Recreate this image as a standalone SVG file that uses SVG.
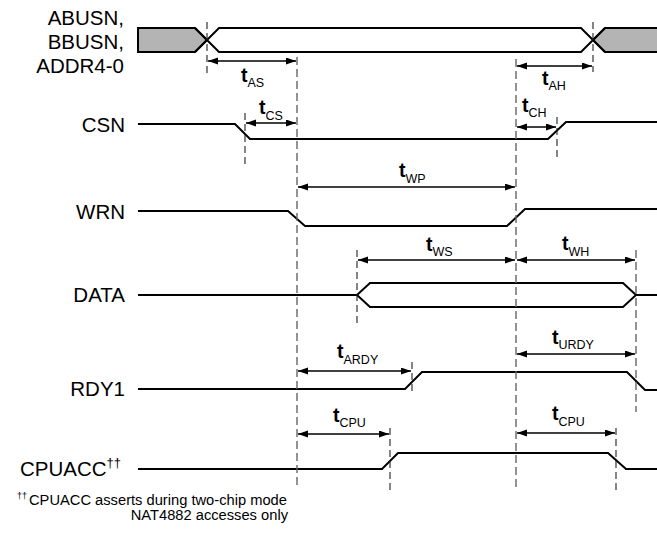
<svg xmlns="http://www.w3.org/2000/svg" width="657" height="535" viewBox="0 0 657 535">
<style>
text{font-family:"Liberation Sans",Arial,sans-serif;fill:#000}
.lbl{font-size:20.5px;text-anchor:end}
.sig{fill:none;stroke:#000;stroke-width:2;stroke-linejoin:miter}
.bus{fill:#b4b4b4;stroke:#000;stroke-width:2}
.dl{fill:none;stroke:#666;stroke-width:1.4;stroke-dasharray:8 4}
.ds{fill:none;stroke:#222;stroke-width:1.1;stroke-dasharray:7 4}
.arr{fill:none;stroke:#000;stroke-width:1.7;marker-start:url(#ah);marker-end:url(#ah)}
.t{font-size:19.5px;font-weight:bold}
.sub{font-size:12.5px}
.fn{font-size:14.7px}
</style>
<defs>
<marker id="ah" markerUnits="userSpaceOnUse" markerWidth="11" markerHeight="8" refX="10" refY="3.5" orient="auto-start-reverse">
<path d="M0,0 L10,3.5 L0,7 z" fill="#000"/>
</marker>
</defs>

<g id="ABUSN">
<text class="lbl" x="124" y="25">ABUSN,</text>
<text class="lbl" x="124" y="49">BBUSN,</text>
<text class="lbl" x="124" y="73">ADDR4-0</text>
<polygon class="bus" points="138,28 195,28 207,40 195,52 138,52"/>
<polygon class="bus" points="593,40 605,28 658,28 658,52 605,52"/>
<path class="sig" d="M195,52 L219,28 L581,28 L605,52 M195,28 L219,52 L581,52 L605,28"/>
</g>

<g id="CSN">
<text class="lbl" x="125" y="132">CSN</text>
<path class="sig" d="M138,124 L235,124 L250,139 L548,139 L566,122 L657,122"/>
</g>

<g id="WRN">
<text class="lbl" x="125" y="219">WRN</text>
<path class="sig" d="M138,211 L288,211 L305,226 L507,226 L525,209 L657,209"/>
</g>

<g id="DATA">
<text class="lbl" x="125" y="302">DATA</text>
<path class="sig" d="M138,295 L357,295 L370,283 L623,283 L636,295 L657,295 M357,295 L370,307 L623,307 L636,295"/>
</g>

<g id="RDY1">
<text class="lbl" x="125" y="396">RDY1</text>
<path class="sig" d="M138,389 L405,389 L422,372 L627,372 L645,390 L657,390"/>
</g>

<g id="CPUACC">
<text class="lbl" x="121" y="476">CPUACC<tspan font-size="13" dy="-9">††</tspan></text>
<path class="sig" d="M138,469 L382,469 L398,453 L608,453 L626,469 L657,469"/>
</g>

<g id="connectors">
<line class="dl" x1="297" y1="57" x2="297" y2="488"/>
<line class="dl" x1="516" y1="59" x2="516" y2="488"/>
<line class="ds" x1="207" y1="22" x2="207" y2="74"/>
<line class="ds" x1="593" y1="22" x2="593" y2="72"/>
<line class="ds" x1="245" y1="113" x2="245" y2="164"/>
<line class="ds" x1="557" y1="117" x2="557" y2="158"/>
<line class="ds" x1="357" y1="250" x2="357" y2="327"/>
<line class="dl" x1="636" y1="250" x2="636" y2="412"/>
<line class="ds" x1="412" y1="362" x2="412" y2="392"/>
<line class="ds" x1="390" y1="428" x2="390" y2="490"/>
<line class="ds" x1="616" y1="428" x2="616" y2="490"/>

<line class="arr" x1="208" y1="61" x2="296" y2="61"/>
<line class="arr" x1="246" y1="123" x2="296" y2="123"/>
<line class="arr" x1="517" y1="66" x2="592" y2="66"/>
<line class="arr" x1="517" y1="127" x2="556" y2="127"/>
<line class="arr" x1="298" y1="187" x2="515" y2="187"/>
<line class="arr" x1="358" y1="260" x2="515" y2="260"/>
<line class="arr" x1="517" y1="260" x2="635" y2="260"/>
<line class="arr" x1="298" y1="371" x2="411" y2="371"/>
<line class="arr" x1="517" y1="354" x2="635" y2="354"/>
<line class="arr" x1="298" y1="434" x2="389" y2="434"/>
<line class="arr" x1="517" y1="433" x2="615" y2="433"/>
</g>

<g id="labels">
<text x="241" y="82"><tspan class="t">t</tspan><tspan class="sub" dy="5">AS</tspan></text>
<text x="259" y="114"><tspan class="t">t</tspan><tspan class="sub" dy="6">CS</tspan></text>
<text x="542" y="85"><tspan class="t">t</tspan><tspan class="sub" dy="5">AH</tspan></text>
<text x="522" y="112"><tspan class="t">t</tspan><tspan class="sub" dy="5">CH</tspan></text>
<text x="399" y="177"><tspan class="t">t</tspan><tspan class="sub" dy="6">WP</tspan></text>
<text x="426" y="251"><tspan class="t">t</tspan><tspan class="sub" dy="5">WS</tspan></text>
<text x="562" y="250"><tspan class="t">t</tspan><tspan class="sub" dy="6">WH</tspan></text>
<text x="337" y="358"><tspan class="t">t</tspan><tspan class="sub" dy="6">ARDY</tspan></text>
<text x="552" y="344"><tspan class="t">t</tspan><tspan class="sub" dy="5">URDY</tspan></text>
<text x="333" y="422"><tspan class="t">t</tspan><tspan class="sub" dy="5">CPU</tspan></text>
<text x="552" y="420"><tspan class="t">t</tspan><tspan class="sub" dy="6">CPU</tspan></text>
</g>

<g id="footnote">
<text x="17" y="499" font-size="9">††</text>
<text class="fn" x="29" y="505">CPUACC asserts during two-chip mode</text>
<text class="fn" x="288" y="520" text-anchor="end">NAT4882 accesses only</text>
</g>
</svg>
